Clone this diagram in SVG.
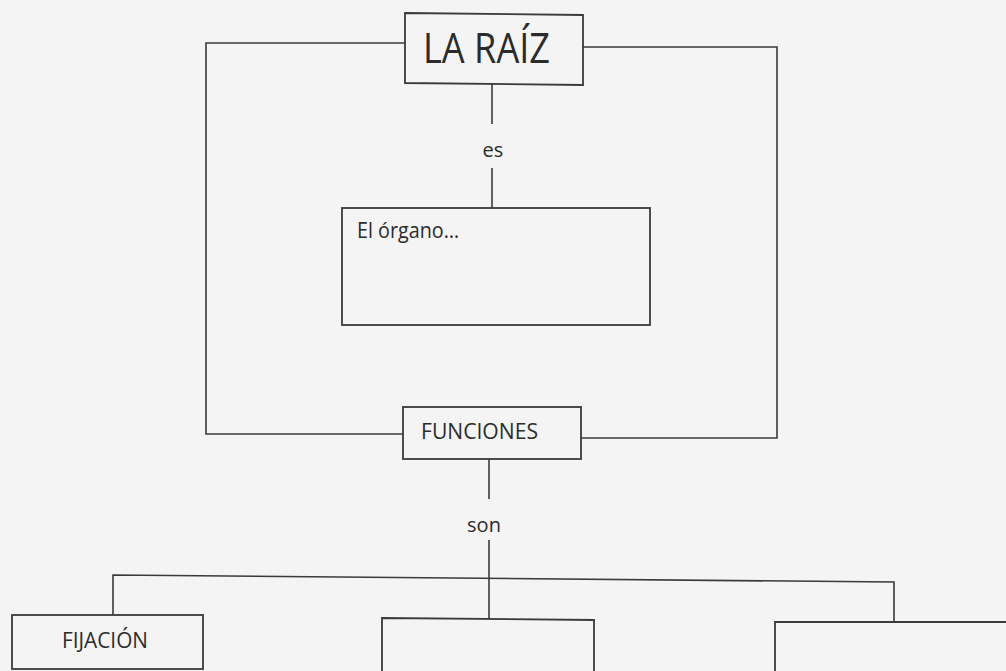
<svg xmlns="http://www.w3.org/2000/svg" width="1006" height="671" viewBox="0 0 1006 671">
<style>
.box{fill:none;stroke:#3a3a3a;stroke-width:1.8}
.ln{fill:none;stroke:#3a3a3a;stroke-width:1.6}
.t{font-family:"Open Sans","Liberation Sans",sans-serif;fill:#2b2b2b}
</style>
<rect x="0" y="0" width="1006" height="671" fill="#f4f4f4"/>
<g id="connectors">
<polyline class="ln" points="405,43 206,43 206,434 403,434"/>
<polyline class="ln" points="583,47 777,47 777,438 581,438"/>
<line class="ln" x1="492" y1="84" x2="492" y2="124"/>
<line class="ln" x1="492" y1="168" x2="492" y2="208"/>
<line class="ln" x1="489" y1="459" x2="489" y2="499"/>
<line class="ln" x1="489" y1="540" x2="489" y2="619"/>
<polyline class="ln" points="113,615 113,575 894,582 894,622"/>
</g>
<g id="node-raiz">
<polygon class="box" points="405,13 583,15 583,85 405,83"/>
<text class="t" x="423" y="63" font-size="42" textLength="127" lengthAdjust="spacingAndGlyphs">LA RAÍZ</text>
</g>
<g id="label-es">
<text class="t" x="493" y="157" font-size="20" text-anchor="middle">es</text>
</g>
<g id="node-organo">
<rect class="box" x="342" y="208" width="308" height="117"/>
<text class="t" x="357" y="238" font-size="21" textLength="102" lengthAdjust="spacingAndGlyphs">El órgano…</text>
</g>
<g id="node-funciones">
<rect class="box" x="403" y="407" width="178" height="52"/>
<text class="t" x="421" y="439" font-size="22" textLength="117" lengthAdjust="spacingAndGlyphs">FUNCIONES</text>
</g>
<g id="label-son">
<text class="t" x="484" y="532" font-size="20" text-anchor="middle">son</text>
</g>
<g id="node-fijacion">
<rect class="box" x="12" y="615" width="191" height="54"/>
<text class="t" x="62" y="648" font-size="22" textLength="86" lengthAdjust="spacingAndGlyphs">FIJACIÓN</text>
</g>
<g id="node-middle">
<polyline class="box" points="382,680 382,618 594,620 594,680"/>
</g>
<g id="node-right">
<polyline class="box" points="775,680 775,622 1010,622"/>
</g>
</svg>
